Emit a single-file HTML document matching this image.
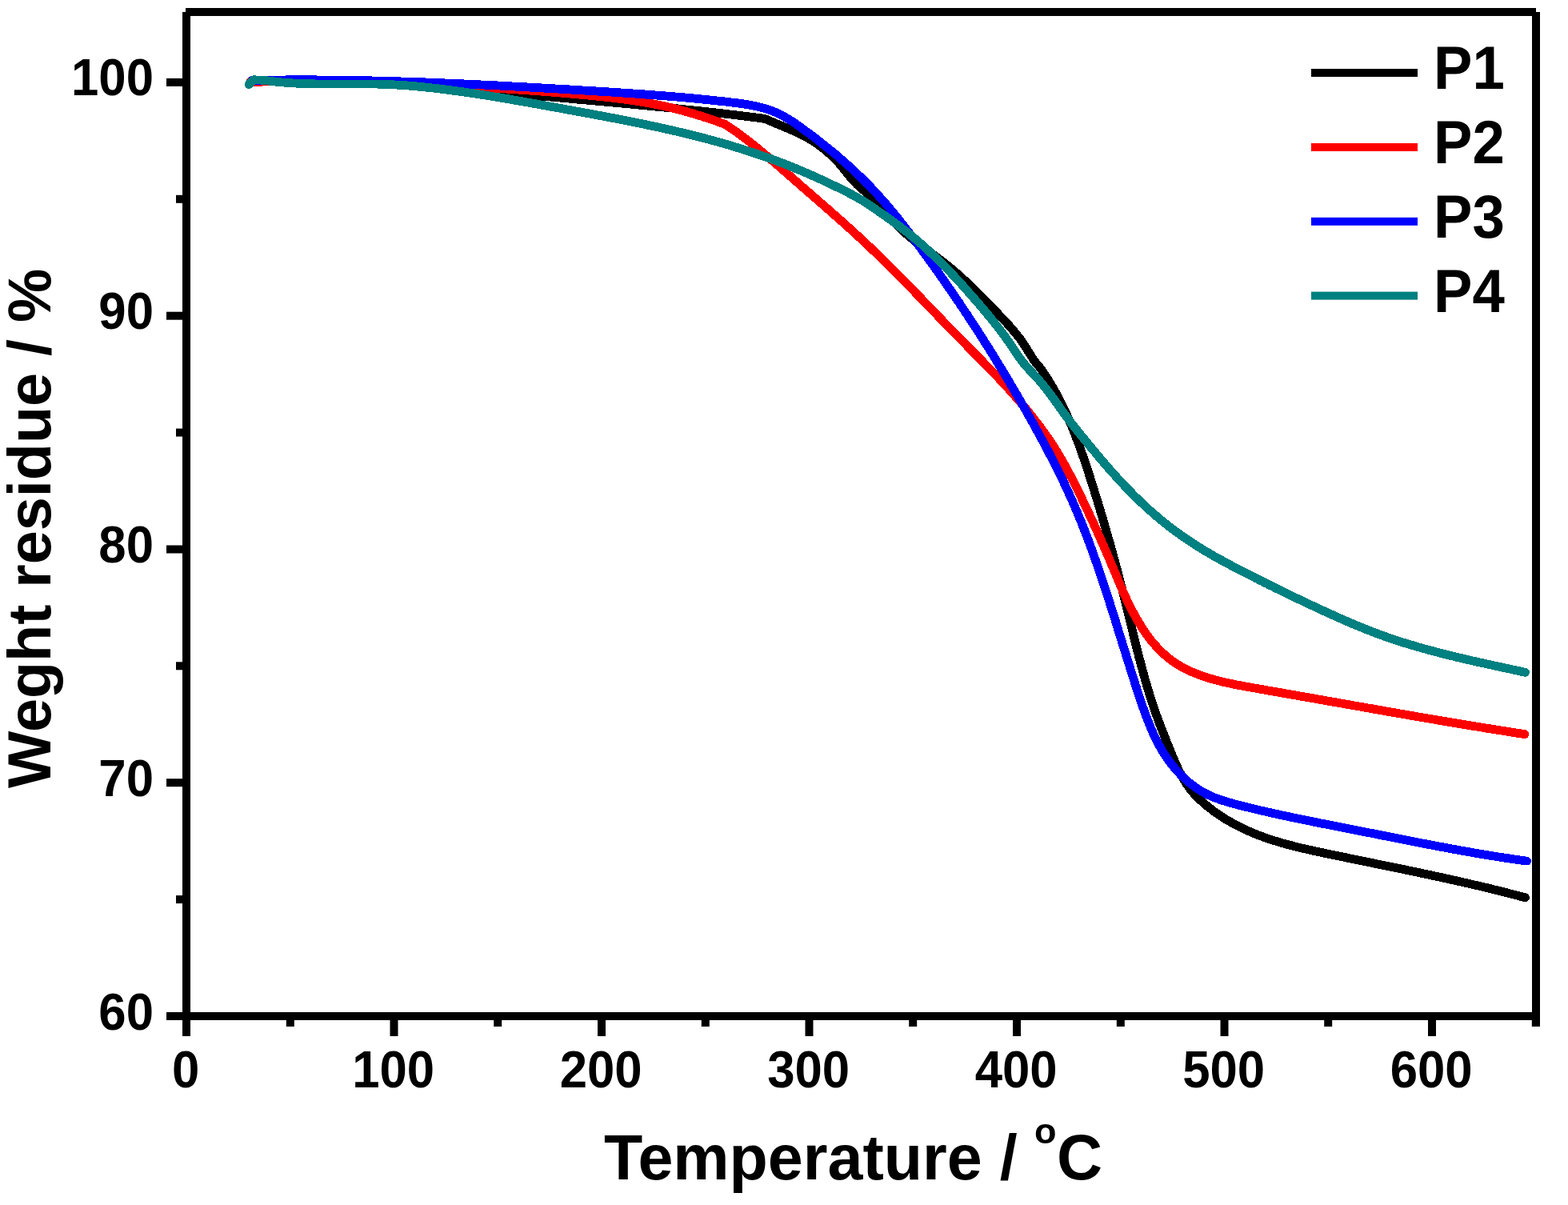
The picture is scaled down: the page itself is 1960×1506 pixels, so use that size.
<!DOCTYPE html><html><head><meta charset="utf-8"><title>TGA</title><style>html,body{margin:0;padding:0;background:#fff;}svg{display:block;}text{font-family:"Liberation Sans",Arial,sans-serif;font-weight:bold;fill:#000;}</style></head><body>
<svg width="1960" height="1506" viewBox="0 0 1960 1506">
<rect width="1960" height="1506" fill="#fff"/>
<path d="M315.0,101.5 318.0,101.5 321.0,101.4 324.1,101.4 327.1,101.4 330.1,101.4 333.1,101.3 336.2,101.3 339.2,101.3 342.2,101.3 345.2,101.3 348.3,101.3 351.3,101.3 354.3,101.3 357.3,101.3 360.3,101.3 363.4,101.4 366.4,101.4 369.4,101.4 372.4,101.4 375.4,101.5 378.5,101.5 381.5,101.5 384.5,101.6 387.5,101.6 390.5,101.7 393.6,101.7 396.6,101.8 399.6,101.9 402.6,101.9 405.6,102.0 408.7,102.1 411.7,102.1 414.7,102.2 417.7,102.3 420.7,102.4 423.8,102.5 426.8,102.6 429.8,102.7 432.8,102.8 435.8,102.9 438.8,103.0 441.9,103.1 444.9,103.2 447.9,103.4 450.9,103.5 453.9,103.6 456.9,103.7 460.0,103.9 463.0,104.0 466.0,104.1 469.0,104.3 472.0,104.4 475.0,104.6 478.0,104.7 481.1,104.9 484.1,105.0 487.1,105.2 490.1,105.4 493.1,105.5 496.1,105.7 499.1,105.9 502.2,106.1 505.2,106.2 508.2,106.4 511.2,106.6 514.2,106.8 517.2,107.0 520.2,107.2 523.2,107.4 526.2,107.6 529.3,107.8 532.3,108.0 535.3,108.2 538.3,108.4 541.3,108.6 544.3,108.8 547.3,109.1 550.3,109.3 553.3,109.5 556.4,109.7 559.4,110.0 562.4,110.2 565.4,110.4 568.4,110.7 571.4,110.9 574.4,111.2 577.4,111.4 580.4,111.6 583.4,111.9 586.4,112.1 589.4,112.4 592.4,112.6 595.5,112.9 598.5,113.1 601.5,113.4 604.5,113.7 607.5,113.9 610.5,114.2 613.5,114.4 616.5,114.7 619.5,115.0 622.5,115.2 625.5,115.5 628.5,115.8 631.5,116.0 634.5,116.3 637.6,116.6 640.6,116.8 643.6,117.1 646.6,117.4 649.6,117.6 652.6,117.9 655.6,118.2 658.6,118.4 661.6,118.7 664.6,119.0 667.6,119.2 670.6,119.5 673.6,119.8 676.6,120.1 679.6,120.3 682.7,120.6 685.7,120.9 688.7,121.1 691.7,121.4 694.7,121.7 697.7,121.9 700.7,122.2 703.7,122.5 706.7,122.8 709.7,123.0 712.7,123.3 715.7,123.6 718.7,123.8 721.7,124.1 724.8,124.4 727.8,124.6 730.8,124.9 733.8,125.2 736.8,125.5 739.8,125.7 742.8,126.0 745.8,126.3 748.8,126.5 751.8,126.8 754.8,127.1 757.8,127.4 760.8,127.6 763.8,127.9 766.9,128.2 769.9,128.5 772.9,128.7 775.9,129.0 778.9,129.3 781.9,129.6 784.9,129.8 787.9,130.1 790.9,130.4 793.9,130.7 796.9,131.0 799.9,131.3 802.9,131.5 805.9,131.8 808.9,132.1 812.0,132.4 815.0,132.7 818.0,133.0 821.0,133.3 824.0,133.5 827.0,133.8 830.0,134.1 833.0,134.4 836.0,134.7 839.0,135.0 842.0,135.3 845.0,135.6 848.0,135.9 851.0,136.2 854.0,136.5 857.0,136.9 860.0,137.2 863.0,137.5 866.0,137.8 869.0,138.1 872.0,138.4 875.1,138.7 878.1,139.1 881.1,139.4 884.1,139.7 887.1,140.1 890.1,140.4 893.1,140.7 896.1,141.1 899.1,141.4 902.1,141.7 905.1,142.1 908.1,142.4 911.1,142.8 914.1,143.1 917.1,143.5 920.1,143.8 923.1,144.2 926.0,144.6 929.0,144.9 932.0,145.3 935.0,145.7 938.0,146.1 941.0,146.4 944.0,146.8 947.0,147.2 950.0,147.6 953.0,148.0 956.0,148.4 958.8,149.6 961.7,150.8 964.6,152.1 967.5,153.3 970.3,154.5 973.2,155.7 976.1,156.9 979.0,158.1 981.9,159.3 984.8,160.5 987.7,161.7 990.6,163.0 993.5,164.3 996.3,165.6 999.1,167.0 1002.0,168.4 1004.7,169.8 1007.5,171.2 1010.2,172.7 1012.9,174.3 1015.6,175.9 1018.2,177.6 1020.8,179.3 1023.3,181.1 1025.8,183.0 1028.3,184.9 1030.7,186.9 1033.0,189.0 1035.4,190.9 1037.7,192.8 1039.9,194.8 1042.0,196.9 1044.1,199.1 1046.2,201.3 1048.2,203.5 1050.2,205.8 1052.1,208.1 1054.1,210.5 1056.0,212.8 1057.9,215.2 1059.8,217.5 1061.7,219.9 1063.6,222.2 1065.5,224.4 1067.5,226.7 1069.5,228.8 1071.5,230.9 1073.6,232.9 1075.8,234.8 1078.0,236.6 1080.3,238.5 1082.5,240.3 1084.7,242.3 1086.8,244.3 1088.9,246.3 1091.0,248.4 1093.0,250.5 1095.1,252.7 1097.1,254.9 1099.1,257.1 1101.1,259.3 1103.1,261.6 1105.1,263.8 1107.1,266.1 1109.1,268.3 1111.1,270.6 1113.1,272.9 1115.2,275.1 1117.2,277.3 1119.3,279.5 1121.4,281.7 1123.5,283.8 1125.7,285.9 1127.9,288.0 1130.1,290.0 1132.4,292.0 1134.7,293.9 1137.0,295.8 1139.3,297.7 1141.7,299.6 1144.0,301.5 1146.4,303.3 1148.8,305.1 1151.2,306.9 1153.6,308.7 1156.1,310.5 1158.5,312.3 1160.9,314.0 1163.4,315.8 1165.8,317.6 1168.2,319.4 1170.6,321.2 1173.0,323.0 1175.4,324.8 1177.8,326.6 1180.2,328.4 1182.6,330.3 1184.9,332.2 1187.2,334.1 1189.5,336.0 1191.8,338.0 1194.1,339.9 1196.4,341.9 1198.6,343.9 1200.9,345.9 1203.1,347.9 1205.3,349.9 1207.5,352.0 1209.7,354.0 1211.9,356.1 1214.1,358.2 1216.2,360.2 1218.4,362.3 1220.5,364.5 1222.7,366.6 1224.8,368.7 1226.9,370.8 1229.1,373.0 1231.2,375.1 1233.3,377.3 1235.4,379.4 1237.5,381.6 1239.6,383.8 1241.7,386.0 1243.7,388.1 1245.8,390.3 1247.9,392.5 1250.0,394.7 1252.0,396.9 1254.1,399.1 1256.2,401.3 1258.2,403.5 1260.2,405.7 1262.3,407.9 1264.2,410.2 1266.2,412.5 1268.1,414.8 1270.1,417.1 1271.9,419.4 1273.8,421.8 1275.6,424.2 1277.3,426.6 1279.0,429.1 1280.7,431.6 1282.3,434.1 1283.9,436.7 1285.4,439.3 1287.0,441.8 1288.6,444.3 1290.2,446.8 1291.8,449.3 1293.5,451.6 1295.3,453.9 1297.1,456.2 1299.0,458.4 1300.8,460.7 1302.5,463.0 1304.2,465.4 1305.9,467.9 1307.5,470.4 1309.1,472.9 1310.7,475.4 1312.3,478.0 1313.8,480.5 1315.3,483.1 1316.8,485.7 1318.3,488.3 1319.8,490.9 1321.2,493.6 1322.6,496.2 1324.0,498.9 1325.4,501.5 1326.7,504.2 1328.0,506.9 1329.3,509.6 1330.6,512.4 1331.9,515.1 1333.2,517.8 1334.4,520.6 1335.6,523.3 1336.8,526.1 1338.0,528.9 1339.2,531.7 1340.3,534.4 1341.5,537.2 1342.6,540.0 1343.7,542.8 1344.8,545.6 1345.9,548.5 1347.0,551.3 1348.0,554.1 1349.1,556.9 1350.1,559.8 1351.1,562.6 1352.1,565.4 1353.1,568.3 1354.1,571.1 1355.1,574.0 1356.1,576.8 1357.0,579.7 1358.0,582.5 1358.9,585.4 1359.9,588.2 1360.8,591.1 1361.7,594.0 1362.6,596.8 1363.5,599.7 1364.5,602.6 1365.4,605.4 1366.3,608.3 1367.2,611.2 1368.0,614.0 1368.9,616.9 1369.8,619.8 1370.7,622.7 1371.6,625.5 1372.5,628.4 1373.3,631.3 1374.2,634.2 1375.1,637.0 1375.9,639.9 1376.8,642.8 1377.7,645.7 1378.5,648.6 1379.4,651.4 1380.2,654.3 1381.0,657.2 1381.9,660.1 1382.7,663.0 1383.6,665.9 1384.4,668.7 1385.2,671.6 1386.0,674.5 1386.9,677.4 1387.7,680.3 1388.5,683.2 1389.3,686.1 1390.1,689.0 1390.9,691.9 1391.7,694.8 1392.5,697.7 1393.3,700.6 1394.1,703.5 1394.9,706.4 1395.6,709.3 1396.4,712.2 1397.2,715.1 1397.9,718.0 1398.7,720.9 1399.5,723.8 1400.2,726.7 1401.0,729.7 1401.7,732.6 1402.5,735.5 1403.2,738.4 1404.0,741.3 1404.7,744.2 1405.4,747.2 1406.2,750.1 1406.9,753.0 1407.6,755.9 1408.3,758.9 1409.1,761.8 1409.8,764.7 1410.5,767.6 1411.2,770.6 1411.9,773.5 1412.6,776.4 1413.3,779.3 1414.1,782.3 1414.8,785.2 1415.5,788.1 1416.2,791.1 1416.9,794.0 1417.6,796.9 1418.4,799.8 1419.1,802.7 1419.8,805.7 1420.6,808.6 1421.3,811.5 1422.0,814.4 1422.8,817.3 1423.5,820.3 1424.3,823.2 1425.1,826.1 1425.8,829.0 1426.6,831.9 1427.4,834.8 1428.2,837.7 1429.0,840.6 1429.8,843.5 1430.6,846.4 1431.4,849.3 1432.2,852.2 1433.1,855.0 1433.9,857.9 1434.8,860.8 1435.7,863.7 1436.5,866.5 1437.4,869.4 1438.3,872.3 1439.2,875.1 1440.2,878.0 1441.1,880.8 1442.1,883.6 1443.0,886.5 1444.0,889.3 1445.0,892.1 1446.0,895.0 1447.0,897.8 1448.0,900.6 1449.1,903.4 1450.1,906.2 1451.2,909.0 1452.3,911.8 1453.4,914.6 1454.5,917.4 1455.6,920.2 1456.7,923.0 1457.8,925.8 1458.9,928.6 1460.1,931.4 1461.2,934.2 1462.4,937.0 1463.5,939.8 1464.7,942.6 1465.8,945.5 1467.0,948.3 1468.2,951.1 1469.4,953.8 1470.7,956.6 1471.9,959.4 1473.2,962.1 1474.6,964.8 1476.0,967.5 1477.4,970.2 1478.8,972.8 1480.4,975.4 1481.9,977.9 1483.6,980.4 1485.3,982.8 1487.0,985.2 1488.8,987.6 1490.7,989.8 1492.7,992.1 1494.7,994.2 1496.8,996.4 1498.9,998.4 1501.1,1000.5 1503.3,1002.5 1505.5,1004.5 1507.8,1006.4 1510.1,1008.3 1512.5,1010.2 1514.8,1012.0 1517.2,1013.8 1519.7,1015.6 1522.1,1017.3 1524.6,1019.0 1527.1,1020.6 1529.7,1022.3 1532.2,1023.9 1534.8,1025.4 1537.4,1026.9 1540.1,1028.4 1542.7,1029.9 1545.4,1031.3 1548.1,1032.7 1550.8,1034.0 1553.5,1035.4 1556.2,1036.6 1559.0,1037.9 1561.8,1039.1 1564.5,1040.3 1567.3,1041.5 1570.1,1042.6 1572.9,1043.7 1575.7,1044.8 1578.6,1045.8 1581.4,1046.9 1584.2,1047.8 1587.1,1048.8 1589.9,1049.7 1592.8,1050.7 1595.7,1051.5 1598.5,1052.4 1601.4,1053.3 1604.3,1054.1 1607.2,1054.9 1610.1,1055.7 1613.0,1056.4 1615.9,1057.2 1618.8,1057.9 1621.7,1058.7 1624.6,1059.4 1627.6,1060.1 1630.5,1060.7 1633.4,1061.4 1636.3,1062.1 1639.3,1062.7 1642.2,1063.4 1645.1,1064.0 1648.1,1064.6 1651.0,1065.3 1654.0,1065.9 1656.9,1066.5 1659.9,1067.1 1662.8,1067.7 1665.7,1068.4 1668.7,1069.0 1671.6,1069.6 1674.6,1070.2 1677.5,1070.8 1680.5,1071.4 1683.4,1072.0 1686.4,1072.6 1689.3,1073.2 1692.3,1073.8 1695.2,1074.4 1698.2,1075.0 1701.1,1075.6 1704.1,1076.2 1707.0,1076.8 1709.9,1077.4 1712.9,1078.0 1715.8,1078.6 1718.8,1079.3 1721.7,1079.9 1724.7,1080.5 1727.6,1081.1 1730.6,1081.7 1733.5,1082.3 1736.5,1082.9 1739.4,1083.5 1742.4,1084.1 1745.3,1084.7 1748.3,1085.3 1751.2,1085.9 1754.1,1086.5 1757.1,1087.1 1760.0,1087.8 1763.0,1088.4 1765.9,1089.0 1768.9,1089.6 1771.8,1090.2 1774.8,1090.8 1777.7,1091.5 1780.6,1092.1 1783.6,1092.7 1786.5,1093.3 1789.5,1094.0 1792.4,1094.6 1795.3,1095.2 1798.3,1095.9 1801.2,1096.5 1804.2,1097.2 1807.1,1097.8 1810.0,1098.4 1813.0,1099.1 1815.9,1099.7 1818.8,1100.4 1821.8,1101.1 1824.7,1101.7 1827.6,1102.4 1830.6,1103.1 1833.5,1103.7 1836.4,1104.4 1839.4,1105.1 1842.3,1105.8 1845.2,1106.4 1848.2,1107.1 1851.1,1107.8 1854.0,1108.5 1856.9,1109.2 1859.9,1109.9 1862.8,1110.6 1865.7,1111.4 1868.6,1112.1 1871.5,1112.8 1874.5,1113.5 1877.4,1114.3 1880.3,1115.0 1883.2,1115.7 1886.1,1116.5 1889.0,1117.2 1892.0,1118.0 1894.9,1118.7 1897.8,1119.5 1900.7,1120.3 1903.6,1121.0 1906.5,1121.8" fill="none" stroke="#000000" stroke-width="10.8" stroke-linejoin="round" stroke-linecap="round" shape-rendering="crispEdges"/>
<path d="M313.0,102.1 316.0,102.1 319.0,102.1 322.1,102.1 325.1,102.1 328.1,102.1 331.1,102.0 334.1,102.0 337.2,102.0 340.2,102.0 343.2,102.0 346.2,102.1 349.2,102.1 352.2,102.1 355.3,102.1 358.3,102.1 361.3,102.1 364.3,102.1 367.3,102.1 370.4,102.2 373.4,102.2 376.4,102.2 379.4,102.2 382.4,102.2 385.5,102.3 388.5,102.3 391.5,102.3 394.5,102.4 397.5,102.4 400.6,102.4 403.6,102.5 406.6,102.5 409.6,102.5 412.6,102.6 415.7,102.6 418.7,102.7 421.7,102.7 424.7,102.8 427.7,102.8 430.8,102.9 433.8,102.9 436.8,103.0 439.8,103.1 442.8,103.1 445.8,103.2 448.9,103.2 451.9,103.3 454.9,103.4 457.9,103.5 460.9,103.5 464.0,103.6 467.0,103.7 470.0,103.8 473.0,103.8 476.0,103.9 479.1,104.0 482.1,104.1 485.1,104.2 488.1,104.3 491.1,104.4 494.2,104.5 497.2,104.5 500.2,104.6 503.2,104.7 506.2,104.9 509.2,105.0 512.3,105.1 515.3,105.2 518.3,105.3 521.3,105.4 524.3,105.5 527.4,105.6 530.4,105.7 533.4,105.9 536.4,106.0 539.4,106.1 542.4,106.2 545.5,106.4 548.5,106.5 551.5,106.6 554.5,106.8 557.5,106.9 560.6,107.0 563.6,107.2 566.6,107.3 569.6,107.5 572.6,107.6 575.6,107.8 578.7,107.9 581.7,108.1 584.7,108.2 587.7,108.4 590.7,108.6 593.7,108.7 596.8,108.9 599.8,109.1 602.8,109.2 605.8,109.4 608.8,109.6 611.8,109.8 614.8,109.9 617.9,110.1 620.9,110.3 623.9,110.5 626.9,110.7 629.9,110.9 632.9,111.1 635.9,111.3 639.0,111.5 642.0,111.7 645.0,111.9 648.0,112.1 651.0,112.3 654.0,112.5 657.0,112.7 660.1,112.9 663.1,113.2 666.1,113.4 669.1,113.6 672.1,113.8 675.1,114.0 678.1,114.3 681.1,114.5 684.2,114.7 687.2,115.0 690.2,115.2 693.2,115.5 696.2,115.7 699.2,116.0 702.2,116.2 705.2,116.5 708.2,116.7 711.3,117.0 714.3,117.2 717.3,117.5 720.3,117.8 723.3,118.0 726.3,118.3 729.3,118.6 732.3,118.8 735.3,119.1 738.3,119.4 741.3,119.7 744.3,120.0 747.3,120.3 750.4,120.6 753.4,120.9 756.4,121.3 759.4,121.6 762.4,121.9 765.3,122.3 768.3,122.6 771.3,123.0 774.3,123.4 777.3,123.7 780.3,124.1 783.3,124.5 786.3,125.0 789.3,125.4 792.2,125.8 795.2,126.3 798.2,126.7 801.2,127.2 804.1,127.7 807.1,128.2 810.1,128.7 813.0,129.3 816.0,129.8 818.9,130.4 821.9,131.0 824.8,131.6 827.8,132.2 830.7,132.8 833.7,133.5 836.6,134.1 839.5,134.8 842.5,135.5 845.4,136.3 848.3,137.0 851.2,137.8 854.1,138.5 857.0,139.4 859.9,140.2 862.8,141.0 865.7,141.9 868.6,142.7 871.5,143.6 874.4,144.5 877.3,145.4 880.2,146.4 883.0,147.3 885.9,148.2 888.8,149.2 891.7,150.2 894.5,151.1 897.4,152.1 900.3,153.1 903.1,154.1 906.0,155.1 908.5,156.7 911.0,158.4 913.5,160.1 916.0,161.8 918.4,163.5 920.9,165.2 923.3,167.0 925.7,168.8 928.1,170.6 930.5,172.4 932.9,174.2 935.3,176.0 937.7,177.9 940.0,179.7 942.4,181.6 944.7,183.5 947.1,185.4 949.4,187.3 951.7,189.2 954.0,191.1 956.3,193.0 958.6,195.0 960.9,196.9 963.2,198.9 965.5,200.8 967.8,202.8 970.1,204.7 972.3,206.7 974.6,208.7 976.9,210.6 979.1,212.6 981.4,214.6 983.7,216.6 985.9,218.6 988.2,220.6 990.4,222.6 992.7,224.5 995.0,226.5 997.2,228.5 999.5,230.5 1001.7,232.5 1004.0,234.5 1006.3,236.4 1008.5,238.4 1010.8,240.4 1013.1,242.4 1015.3,244.4 1017.6,246.3 1019.9,248.3 1022.2,250.3 1024.4,252.3 1026.7,254.2 1029.0,256.2 1031.2,258.2 1033.5,260.2 1035.8,262.1 1038.0,264.1 1040.3,266.1 1042.5,268.1 1044.8,270.1 1047.1,272.1 1049.3,274.1 1051.6,276.1 1053.8,278.1 1056.0,280.1 1058.3,282.1 1060.5,284.1 1062.8,286.1 1065.0,288.1 1067.2,290.1 1069.4,292.2 1071.6,294.2 1073.8,296.2 1076.1,298.3 1078.3,300.3 1080.4,302.4 1082.6,304.4 1084.8,306.5 1087.0,308.6 1089.2,310.7 1091.3,312.7 1093.5,314.8 1095.7,316.9 1097.8,319.0 1100.0,321.1 1102.1,323.2 1104.3,325.3 1106.4,327.4 1108.5,329.5 1110.7,331.6 1112.8,333.8 1114.9,335.9 1117.1,338.0 1119.2,340.2 1121.3,342.3 1123.4,344.4 1125.5,346.6 1127.6,348.7 1129.8,350.8 1131.9,353.0 1134.0,355.1 1136.1,357.3 1138.2,359.4 1140.3,361.6 1142.4,363.7 1144.5,365.9 1146.6,368.1 1148.7,370.2 1150.8,372.4 1152.8,374.5 1154.9,376.7 1157.0,378.9 1159.1,381.0 1161.2,383.2 1163.3,385.4 1165.4,387.5 1167.5,389.7 1169.6,391.9 1171.7,394.0 1173.7,396.2 1175.8,398.3 1177.9,400.5 1180.0,402.7 1182.1,404.8 1184.2,407.0 1186.3,409.1 1188.4,411.3 1190.5,413.5 1192.6,415.6 1194.7,417.8 1196.8,419.9 1198.9,422.1 1201.0,424.2 1203.1,426.3 1205.2,428.5 1207.3,430.6 1209.4,432.8 1211.5,434.9 1213.6,437.0 1215.8,439.2 1217.9,441.3 1220.0,443.5 1222.1,445.6 1224.2,447.7 1226.3,449.9 1228.4,452.0 1230.5,454.2 1232.6,456.3 1234.7,458.5 1236.8,460.6 1238.9,462.8 1241.0,465.0 1243.0,467.1 1245.1,469.3 1247.2,471.5 1249.3,473.7 1251.3,475.9 1253.4,478.1 1255.4,480.3 1257.5,482.5 1259.5,484.7 1261.5,486.9 1263.5,489.2 1265.5,491.4 1267.5,493.7 1269.5,495.9 1271.5,498.2 1273.5,500.4 1275.4,502.7 1277.4,505.0 1279.3,507.3 1281.3,509.6 1283.2,511.9 1285.1,514.3 1287.0,516.6 1288.9,519.0 1290.7,521.3 1292.6,523.7 1294.4,526.0 1296.3,528.4 1298.1,530.8 1299.9,533.2 1301.7,535.6 1303.4,538.1 1305.2,540.5 1306.9,543.0 1308.6,545.4 1310.3,547.9 1312.0,550.4 1313.7,552.9 1315.3,555.4 1317.0,557.9 1318.6,560.4 1320.2,563.0 1321.7,565.5 1323.3,568.1 1324.8,570.7 1326.3,573.2 1327.8,575.8 1329.3,578.5 1330.8,581.1 1332.2,583.7 1333.7,586.3 1335.1,589.0 1336.5,591.6 1337.9,594.3 1339.3,596.9 1340.7,599.6 1342.1,602.3 1343.4,605.0 1344.8,607.7 1346.1,610.4 1347.5,613.1 1348.8,615.8 1350.1,618.5 1351.4,621.2 1352.7,623.9 1354.0,626.6 1355.3,629.3 1356.6,632.0 1357.8,634.8 1359.1,637.5 1360.4,640.2 1361.7,642.9 1362.9,645.6 1364.2,648.4 1365.5,651.1 1366.7,653.8 1368.0,656.5 1369.2,659.3 1370.4,662.0 1371.7,664.7 1372.9,667.5 1374.1,670.2 1375.4,673.0 1376.6,675.7 1377.8,678.4 1379.0,681.2 1380.2,683.9 1381.4,686.7 1382.6,689.4 1383.8,692.2 1385.0,695.0 1386.2,697.7 1387.4,700.5 1388.5,703.3 1389.7,706.0 1390.9,708.8 1392.0,711.6 1393.2,714.4 1394.4,717.1 1395.5,719.9 1396.7,722.7 1397.9,725.5 1399.0,728.2 1400.2,731.0 1401.4,733.8 1402.6,736.5 1403.8,739.3 1405.1,742.1 1406.3,744.8 1407.6,747.6 1408.8,750.3 1410.1,753.0 1411.5,755.7 1412.8,758.4 1414.2,761.1 1415.6,763.8 1417.0,766.5 1418.4,769.2 1419.9,771.8 1421.4,774.4 1422.9,777.1 1424.5,779.6 1426.1,782.2 1427.7,784.8 1429.4,787.3 1431.1,789.8 1432.8,792.3 1434.6,794.7 1436.4,797.1 1438.2,799.5 1440.1,801.9 1442.0,804.2 1444.0,806.4 1446.0,808.6 1448.0,810.8 1450.1,812.9 1452.2,815.0 1454.4,817.0 1456.6,819.0 1458.9,820.9 1461.2,822.8 1463.5,824.6 1465.9,826.3 1468.3,828.0 1470.8,829.6 1473.3,831.2 1475.9,832.7 1478.4,834.1 1481.0,835.5 1483.7,836.9 1486.4,838.2 1489.1,839.4 1491.8,840.6 1494.6,841.7 1497.4,842.8 1500.2,843.9 1503.0,844.9 1505.9,845.9 1508.7,846.8 1511.6,847.7 1514.5,848.5 1517.5,849.4 1520.4,850.1 1523.4,850.9 1526.3,851.6 1529.3,852.4 1532.3,853.0 1535.3,853.7 1538.3,854.3 1541.3,855.0 1544.3,855.6 1547.3,856.2 1550.3,856.7 1553.4,857.3 1556.4,857.8 1559.4,858.4 1562.4,858.9 1565.4,859.5 1568.4,860.0 1571.4,860.5 1574.4,861.1 1577.4,861.6 1580.3,862.1 1583.3,862.6 1586.3,863.2 1589.2,863.7 1592.2,864.2 1595.1,864.7 1598.1,865.2 1601.0,865.7 1604.0,866.3 1606.9,866.8 1609.8,867.3 1612.8,867.8 1615.7,868.3 1618.6,868.8 1621.6,869.3 1624.5,869.9 1627.4,870.4 1630.4,870.9 1633.3,871.4 1636.3,871.9 1639.2,872.4 1642.1,872.9 1645.1,873.5 1648.0,874.0 1651.0,874.5 1653.9,875.0 1656.8,875.5 1659.8,876.1 1662.7,876.6 1665.7,877.1 1668.6,877.6 1671.6,878.1 1674.5,878.7 1677.5,879.2 1680.5,879.7 1683.4,880.2 1686.4,880.7 1689.3,881.3 1692.3,881.8 1695.2,882.3 1698.2,882.8 1701.1,883.3 1704.1,883.9 1707.1,884.4 1710.0,884.9 1713.0,885.4 1716.0,885.9 1718.9,886.5 1721.9,887.0 1724.8,887.5 1727.8,888.0 1730.8,888.5 1733.7,889.1 1736.7,889.6 1739.7,890.1 1742.6,890.6 1745.6,891.1 1748.6,891.7 1751.6,892.2 1754.5,892.7 1757.5,893.2 1760.5,893.7 1763.4,894.2 1766.4,894.7 1769.4,895.3 1772.3,895.8 1775.3,896.3 1778.3,896.8 1781.3,897.3 1784.2,897.8 1787.2,898.3 1790.2,898.8 1793.1,899.3 1796.1,899.8 1799.1,900.3 1802.1,900.8 1805.0,901.3 1808.0,901.8 1811.0,902.3 1814.0,902.8 1816.9,903.3 1819.9,903.8 1822.9,904.3 1825.8,904.8 1828.8,905.3 1831.8,905.8 1834.8,906.3 1837.7,906.8 1840.7,907.3 1843.7,907.8 1846.7,908.2 1849.6,908.7 1852.6,909.2 1855.6,909.7 1858.5,910.2 1861.5,910.6 1864.5,911.1 1867.4,911.6 1870.4,912.1 1873.4,912.5 1876.3,913.0 1879.3,913.5 1882.3,913.9 1885.2,914.4 1888.2,914.9 1891.2,915.3 1894.1,915.8 1897.1,916.3 1900.1,916.7 1903.0,917.2 1906.0,917.6" fill="none" stroke="#ff0000" stroke-width="10.8" stroke-linejoin="round" stroke-linecap="round" shape-rendering="crispEdges"/>
<path d="M315.0,100.4 318.0,100.3 321.0,100.3 324.0,100.2 327.0,100.2 330.0,100.1 333.0,100.1 336.0,100.1 339.0,100.0 342.0,100.0 345.0,100.0 348.1,99.9 351.1,99.9 354.1,99.9 357.1,99.9 360.1,99.8 363.1,99.8 366.1,99.8 369.1,99.8 372.1,99.8 375.1,99.8 378.1,99.8 381.1,99.8 384.1,99.8 387.1,99.8 390.1,99.8 393.1,99.8 396.1,99.9 399.1,99.9 402.2,99.9 405.2,99.9 408.2,99.9 411.2,100.0 414.2,100.0 417.2,100.0 420.2,100.1 423.2,100.1 426.2,100.2 429.2,100.2 432.2,100.2 435.2,100.3 438.2,100.3 441.2,100.4 444.2,100.4 447.2,100.5 450.2,100.6 453.3,100.6 456.3,100.7 459.3,100.7 462.3,100.8 465.3,100.9 468.3,101.0 471.3,101.0 474.3,101.1 477.3,101.2 480.3,101.3 483.3,101.3 486.3,101.4 489.3,101.5 492.3,101.6 495.3,101.7 498.3,101.8 501.3,101.9 504.3,102.0 507.4,102.1 510.4,102.2 513.4,102.3 516.4,102.4 519.4,102.5 522.4,102.6 525.4,102.7 528.4,102.8 531.4,102.9 534.4,103.0 537.4,103.1 540.4,103.3 543.4,103.4 546.4,103.5 549.4,103.6 552.4,103.7 555.4,103.9 558.4,104.0 561.4,104.1 564.4,104.2 567.4,104.4 570.5,104.5 573.5,104.6 576.5,104.8 579.5,104.9 582.5,105.0 585.5,105.2 588.5,105.3 591.5,105.5 594.5,105.6 597.5,105.7 600.5,105.9 603.5,106.0 606.5,106.2 609.5,106.3 612.5,106.5 615.5,106.6 618.5,106.8 621.5,106.9 624.5,107.1 627.5,107.2 630.5,107.4 633.5,107.6 636.5,107.7 639.5,107.9 642.5,108.0 645.5,108.2 648.5,108.4 651.5,108.5 654.5,108.7 657.5,108.8 660.5,109.0 663.5,109.2 666.5,109.3 669.5,109.5 672.5,109.7 675.5,109.8 678.5,110.0 681.5,110.2 684.5,110.4 687.5,110.5 690.5,110.7 693.5,110.9 696.5,111.0 699.5,111.2 702.5,111.4 705.5,111.6 708.5,111.7 711.5,111.9 714.5,112.1 717.5,112.3 720.5,112.4 723.5,112.6 726.5,112.8 729.5,113.0 732.5,113.2 735.5,113.3 738.5,113.5 741.5,113.7 744.5,113.9 747.5,114.1 750.5,114.3 753.5,114.4 756.5,114.6 759.5,114.8 762.5,115.0 765.5,115.2 768.4,115.4 771.4,115.6 774.4,115.8 777.4,116.0 780.4,116.2 783.4,116.4 786.4,116.6 789.4,116.8 792.4,117.0 795.4,117.2 798.4,117.4 801.4,117.6 804.4,117.8 807.4,118.1 810.4,118.3 813.4,118.5 816.4,118.7 819.4,119.0 822.4,119.2 825.4,119.4 828.4,119.7 831.4,119.9 834.4,120.1 837.4,120.4 840.4,120.6 843.4,120.9 846.4,121.1 849.4,121.4 852.4,121.7 855.4,121.9 858.4,122.2 861.4,122.5 864.4,122.7 867.4,123.0 870.4,123.3 873.4,123.6 876.4,123.9 879.4,124.2 882.4,124.5 885.4,124.8 888.4,125.1 891.4,125.4 894.4,125.7 897.4,126.1 900.4,126.4 903.4,126.7 906.4,127.0 909.5,127.4 912.5,127.7 915.5,128.1 918.5,128.5 921.5,128.8 924.5,129.2 927.5,129.6 930.4,130.1 933.4,130.6 936.4,131.1 939.3,131.6 942.3,132.2 945.2,132.8 948.1,133.5 951.0,134.2 953.8,134.9 956.7,135.8 959.5,136.6 962.3,137.6 965.1,138.6 967.8,139.7 970.5,140.8 973.2,142.0 975.8,143.3 978.5,144.7 981.1,146.2 983.6,147.7 986.2,149.2 988.7,150.8 991.2,152.4 993.7,154.1 996.2,155.8 998.6,157.6 1001.1,159.3 1003.5,161.1 1006.0,162.9 1008.4,164.7 1010.8,166.4 1013.3,168.3 1015.7,170.1 1018.1,171.9 1020.5,173.7 1022.9,175.6 1025.2,177.4 1027.6,179.3 1030.0,181.2 1032.3,183.1 1034.7,185.0 1037.0,186.9 1039.3,188.8 1041.7,190.7 1044.0,192.6 1046.3,194.6 1048.6,196.5 1050.8,198.5 1053.1,200.5 1055.4,202.5 1057.6,204.5 1059.9,206.5 1062.1,208.5 1064.3,210.5 1066.5,212.6 1068.7,214.6 1070.9,216.7 1073.1,218.8 1075.2,220.8 1077.4,222.9 1079.5,225.1 1081.7,227.2 1083.8,229.3 1085.9,231.5 1088.0,233.6 1090.1,235.8 1092.1,238.0 1094.2,240.2 1096.2,242.4 1098.2,244.6 1100.2,246.8 1102.2,249.0 1104.2,251.3 1106.2,253.6 1108.2,255.8 1110.1,258.1 1112.0,260.4 1114.0,262.7 1115.9,265.0 1117.8,267.4 1119.7,269.7 1121.6,272.0 1123.5,274.4 1125.3,276.7 1127.2,279.1 1129.0,281.5 1130.9,283.8 1132.7,286.2 1134.5,288.6 1136.4,291.0 1138.2,293.4 1140.0,295.8 1141.8,298.2 1143.6,300.6 1145.4,303.0 1147.2,305.4 1149.0,307.8 1150.8,310.2 1152.6,312.7 1154.4,315.1 1156.1,317.5 1157.9,319.9 1159.7,322.3 1161.5,324.8 1163.2,327.2 1165.0,329.6 1166.7,332.1 1168.5,334.5 1170.2,337.0 1172.0,339.4 1173.7,341.9 1175.4,344.3 1177.2,346.8 1178.9,349.2 1180.6,351.7 1182.3,354.1 1184.0,356.6 1185.7,359.1 1187.4,361.5 1189.1,364.0 1190.8,366.5 1192.5,369.0 1194.2,371.4 1195.9,373.9 1197.6,376.4 1199.3,378.9 1200.9,381.4 1202.6,383.9 1204.3,386.4 1205.9,388.9 1207.6,391.4 1209.3,393.9 1210.9,396.4 1212.6,398.9 1214.2,401.4 1215.8,403.9 1217.5,406.4 1219.1,408.9 1220.7,411.4 1222.4,413.9 1224.0,416.5 1225.6,419.0 1227.2,421.5 1228.8,424.1 1230.4,426.6 1232.0,429.1 1233.6,431.7 1235.2,434.2 1236.8,436.7 1238.4,439.3 1240.0,441.8 1241.6,444.4 1243.1,446.9 1244.7,449.5 1246.3,452.0 1247.8,454.6 1249.4,457.2 1251.0,459.7 1252.5,462.3 1254.1,464.8 1255.6,467.4 1257.2,470.0 1258.7,472.6 1260.2,475.1 1261.8,477.7 1263.3,480.3 1264.8,482.9 1266.4,485.5 1267.9,488.0 1269.4,490.6 1270.9,493.2 1272.4,495.8 1273.9,498.4 1275.4,501.0 1276.9,503.6 1278.4,506.2 1279.9,508.8 1281.4,511.4 1282.9,514.0 1284.3,516.7 1285.8,519.3 1287.3,521.9 1288.8,524.5 1290.2,527.1 1291.7,529.7 1293.1,532.4 1294.6,535.0 1296.0,537.6 1297.5,540.3 1298.9,542.9 1300.4,545.5 1301.8,548.2 1303.2,550.8 1304.6,553.5 1306.0,556.1 1307.5,558.8 1308.9,561.4 1310.3,564.1 1311.6,566.7 1313.0,569.4 1314.4,572.1 1315.8,574.7 1317.1,577.4 1318.5,580.1 1319.8,582.8 1321.2,585.4 1322.5,588.1 1323.8,590.8 1325.2,593.5 1326.5,596.2 1327.8,598.9 1329.1,601.6 1330.4,604.3 1331.6,607.0 1332.9,609.7 1334.2,612.5 1335.4,615.2 1336.7,617.9 1337.9,620.6 1339.1,623.4 1340.4,626.1 1341.6,628.8 1342.8,631.6 1343.9,634.3 1345.1,637.1 1346.3,639.8 1347.4,642.6 1348.6,645.4 1349.7,648.1 1350.9,650.9 1352.0,653.7 1353.1,656.5 1354.2,659.2 1355.3,662.0 1356.4,664.8 1357.5,667.6 1358.5,670.4 1359.6,673.2 1360.7,676.0 1361.7,678.8 1362.7,681.6 1363.8,684.4 1364.8,687.2 1365.8,690.1 1366.8,692.9 1367.8,695.7 1368.8,698.5 1369.8,701.4 1370.8,704.2 1371.8,707.0 1372.8,709.9 1373.8,712.7 1374.7,715.5 1375.7,718.4 1376.6,721.2 1377.6,724.1 1378.6,726.9 1379.5,729.8 1380.4,732.6 1381.4,735.5 1382.3,738.3 1383.2,741.2 1384.2,744.1 1385.1,746.9 1386.0,749.8 1386.9,752.6 1387.8,755.5 1388.7,758.4 1389.6,761.2 1390.6,764.1 1391.5,767.0 1392.4,769.9 1393.3,772.7 1394.2,775.6 1395.1,778.5 1395.9,781.4 1396.8,784.2 1397.7,787.1 1398.6,790.0 1399.5,792.9 1400.4,795.8 1401.3,798.6 1402.2,801.5 1403.1,804.4 1404.0,807.3 1404.9,810.2 1405.8,813.1 1406.7,815.9 1407.6,818.8 1408.5,821.7 1409.4,824.6 1410.3,827.5 1411.2,830.4 1412.1,833.2 1413.0,836.1 1413.9,839.0 1414.8,841.9 1415.7,844.8 1416.7,847.7 1417.6,850.5 1418.5,853.4 1419.4,856.3 1420.4,859.2 1421.3,862.1 1422.2,864.9 1423.2,867.8 1424.1,870.7 1425.1,873.6 1426.0,876.4 1427.0,879.3 1428.0,882.1 1429.0,885.0 1430.0,887.8 1431.0,890.7 1432.1,893.5 1433.1,896.3 1434.2,899.1 1435.3,901.9 1436.4,904.7 1437.6,907.5 1438.7,910.2 1439.9,913.0 1441.1,915.7 1442.4,918.4 1443.6,921.1 1445.0,923.8 1446.3,926.4 1447.7,929.1 1449.1,931.7 1450.5,934.3 1452.0,936.8 1453.5,939.4 1455.1,941.9 1456.7,944.4 1458.3,946.8 1460.0,949.3 1461.8,951.7 1463.5,954.1 1465.4,956.4 1467.3,958.7 1469.2,961.0 1471.2,963.3 1473.2,965.5 1475.2,967.6 1477.4,969.8 1479.5,971.8 1481.7,973.9 1484.0,975.9 1486.2,977.8 1488.6,979.7 1490.9,981.5 1493.3,983.3 1495.8,985.0 1498.3,986.6 1500.8,988.2 1503.4,989.7 1506.0,991.2 1508.6,992.6 1511.3,993.9 1514.1,995.1 1516.8,996.3 1519.6,997.4 1522.4,998.4 1525.2,999.4 1528.1,1000.4 1531.0,1001.3 1533.9,1002.2 1536.8,1003.0 1539.7,1003.9 1542.6,1004.6 1545.5,1005.4 1548.5,1006.2 1551.4,1006.9 1554.4,1007.7 1557.3,1008.4 1560.2,1009.1 1563.2,1009.8 1566.1,1010.6 1569.1,1011.3 1572.0,1012.0 1574.9,1012.7 1577.9,1013.3 1580.8,1014.0 1583.8,1014.7 1586.7,1015.4 1589.6,1016.0 1592.6,1016.7 1595.5,1017.3 1598.5,1018.0 1601.4,1018.6 1604.3,1019.3 1607.3,1019.9 1610.2,1020.5 1613.1,1021.2 1616.1,1021.8 1619.0,1022.4 1622.0,1023.0 1624.9,1023.6 1627.8,1024.2 1630.8,1024.8 1633.7,1025.4 1636.7,1026.0 1639.6,1026.6 1642.5,1027.2 1645.5,1027.8 1648.4,1028.4 1651.4,1029.0 1654.3,1029.6 1657.2,1030.1 1660.2,1030.7 1663.1,1031.3 1666.1,1031.9 1669.0,1032.5 1671.9,1033.0 1674.9,1033.6 1677.8,1034.2 1680.8,1034.8 1683.7,1035.3 1686.7,1035.9 1689.6,1036.5 1692.6,1037.1 1695.5,1037.7 1698.4,1038.2 1701.4,1038.8 1704.3,1039.4 1707.3,1040.0 1710.2,1040.6 1713.2,1041.1 1716.1,1041.7 1719.1,1042.3 1722.0,1042.9 1725.0,1043.5 1727.9,1044.1 1730.9,1044.7 1733.8,1045.2 1736.8,1045.8 1739.7,1046.4 1742.7,1047.0 1745.6,1047.6 1748.6,1048.2 1751.5,1048.7 1754.5,1049.3 1757.4,1049.9 1760.4,1050.5 1763.3,1051.1 1766.3,1051.7 1769.2,1052.2 1772.2,1052.8 1775.1,1053.4 1778.1,1054.0 1781.0,1054.5 1784.0,1055.1 1786.9,1055.7 1789.9,1056.2 1792.9,1056.8 1795.8,1057.4 1798.8,1057.9 1801.7,1058.5 1804.7,1059.0 1807.6,1059.6 1810.6,1060.1 1813.6,1060.7 1816.5,1061.2 1819.5,1061.8 1822.4,1062.3 1825.4,1062.8 1828.4,1063.4 1831.3,1063.9 1834.3,1064.4 1837.3,1064.9 1840.2,1065.5 1843.2,1066.0 1846.1,1066.5 1849.1,1067.0 1852.1,1067.5 1855.0,1068.0 1858.0,1068.5 1861.0,1069.0 1863.9,1069.5 1866.9,1069.9 1869.9,1070.4 1872.8,1070.9 1875.8,1071.3 1878.8,1071.8 1881.8,1072.3 1884.7,1072.7 1887.7,1073.1 1890.7,1073.6 1893.6,1074.0 1896.6,1074.4 1899.6,1074.9 1902.6,1075.3 1905.5,1075.7 1908.5,1076.1" fill="none" stroke="#0000ff" stroke-width="10.8" stroke-linejoin="round" stroke-linecap="round" shape-rendering="crispEdges"/>
<path d="M311.0,105.5 317.0,99.8 331.0,100.3 334.0,100.8 336.9,101.2 339.9,101.6 342.9,101.9 345.9,102.3 348.9,102.6 351.8,102.9 354.8,103.1 357.8,103.4 360.8,103.6 363.8,103.8 366.8,104.0 369.8,104.1 372.8,104.3 375.8,104.4 378.8,104.5 381.8,104.6 384.8,104.7 387.8,104.8 390.8,104.8 393.8,104.9 396.8,104.9 399.8,105.0 402.8,105.0 405.8,105.0 408.8,105.0 411.8,105.0 414.9,105.0 417.9,105.0 420.9,105.0 423.9,105.0 426.9,105.0 429.9,104.9 432.9,104.9 436.0,104.9 439.0,104.9 442.0,104.9 445.0,104.9 448.0,104.9 451.0,104.9 454.0,104.9 457.1,104.9 460.1,104.9 463.1,104.9 466.1,105.0 469.1,105.0 472.1,105.1 475.1,105.2 478.1,105.3 481.1,105.4 484.2,105.5 487.2,105.6 490.2,105.8 493.2,105.9 496.2,106.1 499.2,106.3 502.2,106.5 505.2,106.7 508.2,106.9 511.2,107.1 514.2,107.4 517.2,107.6 520.2,107.9 523.2,108.2 526.2,108.5 529.2,108.8 532.2,109.1 535.1,109.4 538.1,109.7 541.1,110.0 544.1,110.4 547.1,110.7 550.1,111.1 553.1,111.4 556.1,111.8 559.0,112.2 562.0,112.6 565.0,113.0 568.0,113.4 571.0,113.8 573.9,114.2 576.9,114.6 579.9,115.0 582.9,115.4 585.9,115.9 588.8,116.3 591.8,116.7 594.8,117.2 597.7,117.7 600.7,118.1 603.7,118.6 606.7,119.0 609.6,119.5 612.6,120.0 615.6,120.5 618.5,121.0 621.5,121.4 624.5,121.9 627.4,122.4 630.4,122.9 633.4,123.4 636.3,123.9 639.3,124.5 642.3,125.0 645.2,125.5 648.2,126.0 651.2,126.5 654.1,127.0 657.1,127.6 660.0,128.1 663.0,128.6 666.0,129.2 668.9,129.7 671.9,130.2 674.9,130.7 677.8,131.3 680.8,131.8 683.7,132.4 686.7,132.9 689.7,133.4 692.6,134.0 695.6,134.5 698.6,135.0 701.5,135.6 704.5,136.1 707.4,136.7 710.4,137.2 713.4,137.7 716.3,138.3 719.3,138.8 722.3,139.4 725.2,139.9 728.2,140.4 731.1,141.0 734.1,141.5 737.1,142.1 740.0,142.6 743.0,143.2 745.9,143.7 748.9,144.3 751.9,144.8 754.8,145.4 757.8,145.9 760.7,146.5 763.7,147.1 766.7,147.6 769.6,148.2 772.6,148.8 775.5,149.3 778.5,149.9 781.4,150.5 784.4,151.1 787.3,151.7 790.3,152.3 793.2,152.9 796.2,153.5 799.1,154.1 802.1,154.7 805.0,155.3 808.0,155.9 810.9,156.5 813.9,157.1 816.8,157.8 819.7,158.4 822.7,159.0 825.6,159.7 828.5,160.3 831.5,161.0 834.4,161.6 837.3,162.3 840.3,163.0 843.2,163.6 846.1,164.3 849.1,165.0 852.0,165.7 854.9,166.4 857.8,167.1 860.7,167.8 863.7,168.5 866.6,169.3 869.5,170.0 872.4,170.7 875.3,171.5 878.2,172.2 881.1,173.0 884.0,173.8 886.9,174.5 889.8,175.3 892.7,176.1 895.6,176.9 898.5,177.7 901.4,178.5 904.3,179.4 907.2,180.2 910.1,181.0 913.0,181.9 915.8,182.7 918.7,183.6 921.6,184.5 924.5,185.4 927.3,186.3 930.2,187.2 933.1,188.1 935.9,189.0 938.8,190.0 941.7,190.9 944.5,191.8 947.4,192.8 950.2,193.8 953.1,194.8 955.9,195.8 958.7,196.8 961.6,197.8 964.4,198.8 967.3,199.9 970.1,200.9 972.9,202.0 975.7,203.1 978.6,204.1 981.4,205.2 984.2,206.3 987.0,207.5 989.8,208.6 992.6,209.7 995.4,210.9 998.2,212.0 1001.0,213.2 1003.8,214.4 1006.5,215.6 1009.3,216.8 1012.1,218.0 1014.8,219.2 1017.6,220.4 1020.3,221.6 1023.1,222.9 1025.8,224.1 1028.5,225.4 1031.2,226.6 1034.0,227.9 1036.7,229.2 1039.4,230.5 1042.0,231.8 1044.7,233.1 1047.4,234.4 1050.1,235.7 1052.7,237.0 1055.4,238.3 1058.0,239.7 1060.6,241.0 1063.3,242.4 1065.9,243.7 1068.5,245.1 1071.0,246.6 1073.6,248.1 1076.1,249.6 1078.7,251.1 1081.2,252.7 1083.7,254.4 1086.2,256.0 1088.7,257.7 1091.2,259.4 1093.7,261.1 1096.2,262.8 1098.7,264.5 1101.1,266.2 1103.6,268.0 1106.1,269.7 1108.5,271.4 1111.0,273.1 1113.4,274.9 1115.8,276.6 1118.2,278.4 1120.7,280.2 1123.1,281.9 1125.4,283.7 1127.8,285.5 1130.2,287.3 1132.5,289.2 1134.9,291.0 1137.2,292.9 1139.5,294.8 1141.8,296.7 1144.1,298.6 1146.4,300.5 1148.7,302.5 1150.9,304.4 1153.2,306.4 1155.4,308.4 1157.6,310.4 1159.9,312.5 1162.1,314.5 1164.2,316.6 1166.4,318.6 1168.6,320.7 1170.7,322.8 1172.9,324.9 1175.0,327.0 1177.2,329.1 1179.3,331.3 1181.4,333.4 1183.5,335.6 1185.6,337.8 1187.6,339.9 1189.7,342.1 1191.8,344.3 1193.8,346.5 1195.9,348.7 1197.9,350.9 1200.0,353.2 1202.0,355.4 1204.0,357.6 1206.0,359.9 1208.0,362.1 1210.0,364.4 1212.0,366.7 1214.0,368.9 1216.0,371.2 1218.0,373.5 1219.9,375.8 1221.9,378.0 1223.9,380.3 1225.8,382.6 1227.8,384.9 1229.7,387.2 1231.7,389.5 1233.6,391.8 1235.5,394.1 1237.4,396.4 1239.3,398.7 1241.2,401.1 1243.1,403.4 1244.9,405.8 1246.8,408.1 1248.6,410.5 1250.5,412.9 1252.3,415.3 1254.1,417.7 1255.8,420.1 1257.6,422.6 1259.3,425.0 1261.1,427.5 1262.8,430.0 1264.4,432.5 1266.1,435.0 1267.8,437.5 1269.5,440.0 1271.1,442.5 1272.9,445.0 1274.6,447.4 1276.4,449.9 1278.2,452.3 1280.1,454.6 1282.0,456.9 1284.0,459.1 1286.0,461.4 1288.1,463.6 1290.1,465.7 1292.2,467.9 1294.2,470.1 1296.3,472.4 1298.3,474.6 1300.2,476.9 1302.2,479.2 1304.1,481.5 1306.0,483.8 1307.9,486.2 1309.7,488.5 1311.5,490.9 1313.3,493.3 1315.1,495.7 1316.9,498.2 1318.6,500.6 1320.4,503.1 1322.1,505.5 1323.9,508.0 1325.6,510.4 1327.3,512.9 1329.1,515.3 1330.8,517.8 1332.6,520.2 1334.4,522.6 1336.2,525.0 1338.1,527.4 1339.9,529.7 1341.8,532.1 1343.6,534.4 1345.5,536.8 1347.4,539.1 1349.3,541.5 1351.2,543.8 1353.1,546.1 1355.0,548.5 1356.9,550.8 1358.8,553.1 1360.7,555.5 1362.6,557.8 1364.5,560.1 1366.4,562.4 1368.4,564.7 1370.3,567.1 1372.2,569.4 1374.2,571.7 1376.1,574.0 1378.1,576.3 1380.0,578.5 1382.0,580.8 1384.0,583.1 1385.9,585.4 1387.9,587.6 1389.9,589.9 1391.9,592.1 1394.0,594.4 1396.0,596.6 1398.0,598.8 1400.0,601.0 1402.1,603.2 1404.1,605.4 1406.2,607.6 1408.3,609.8 1410.4,611.9 1412.5,614.1 1414.6,616.2 1416.7,618.4 1418.8,620.5 1421.0,622.6 1423.1,624.7 1425.3,626.8 1427.5,628.9 1429.7,630.9 1431.9,633.0 1434.1,635.0 1436.3,637.0 1438.6,639.0 1440.8,641.0 1443.1,643.0 1445.4,644.9 1447.7,646.9 1450.0,648.8 1452.3,650.7 1454.6,652.6 1457.0,654.5 1459.4,656.4 1461.7,658.2 1464.1,660.1 1466.5,661.9 1468.9,663.7 1471.4,665.5 1473.8,667.2 1476.3,669.0 1478.7,670.7 1481.2,672.4 1483.7,674.1 1486.2,675.8 1488.7,677.4 1491.2,679.1 1493.7,680.7 1496.3,682.3 1498.8,683.9 1501.4,685.5 1503.9,687.1 1506.5,688.6 1509.1,690.1 1511.7,691.7 1514.3,693.2 1516.9,694.7 1519.5,696.1 1522.2,697.6 1524.8,699.1 1527.4,700.5 1530.1,702.0 1532.7,703.4 1535.4,704.8 1538.0,706.2 1540.7,707.7 1543.4,709.1 1546.0,710.5 1548.7,711.8 1551.4,713.2 1554.0,714.6 1556.7,716.0 1559.4,717.3 1562.1,718.7 1564.8,720.1 1567.5,721.4 1570.1,722.8 1572.8,724.1 1575.5,725.5 1578.2,726.8 1580.9,728.2 1583.6,729.5 1586.3,730.9 1589.0,732.2 1591.7,733.5 1594.3,734.9 1597.0,736.2 1599.7,737.5 1602.4,738.8 1605.1,740.1 1607.8,741.4 1610.5,742.8 1613.3,744.1 1616.0,745.4 1618.7,746.7 1621.4,748.0 1624.1,749.3 1626.8,750.5 1629.5,751.8 1632.2,753.1 1635.0,754.4 1637.7,755.7 1640.4,757.0 1643.1,758.2 1645.8,759.5 1648.6,760.8 1651.3,762.0 1654.0,763.3 1656.8,764.5 1659.5,765.8 1662.2,767.1 1665.0,768.3 1667.7,769.5 1670.5,770.8 1673.2,772.0 1676.0,773.2 1678.7,774.4 1681.5,775.6 1684.2,776.8 1687.0,778.0 1689.8,779.2 1692.6,780.4 1695.3,781.5 1698.1,782.7 1700.9,783.8 1703.7,785.0 1706.5,786.1 1709.3,787.2 1712.1,788.3 1714.9,789.4 1717.7,790.5 1720.5,791.5 1723.3,792.6 1726.1,793.6 1728.9,794.6 1731.8,795.6 1734.6,796.6 1737.4,797.6 1740.3,798.6 1743.1,799.5 1746.0,800.5 1748.8,801.4 1751.7,802.3 1754.6,803.2 1757.4,804.1 1760.3,805.0 1763.2,805.8 1766.1,806.7 1769.0,807.6 1771.8,808.4 1774.7,809.2 1777.6,810.0 1780.5,810.9 1783.4,811.7 1786.3,812.5 1789.2,813.2 1792.1,814.0 1795.0,814.8 1797.9,815.5 1800.9,816.3 1803.8,817.0 1806.7,817.8 1809.6,818.5 1812.5,819.2 1815.5,819.9 1818.4,820.7 1821.3,821.4 1824.2,822.1 1827.2,822.7 1830.1,823.4 1833.0,824.1 1836.0,824.8 1838.9,825.5 1841.8,826.1 1844.8,826.8 1847.7,827.5 1850.7,828.1 1853.6,828.8 1856.5,829.4 1859.5,830.1 1862.4,830.7 1865.4,831.4 1868.3,832.0 1871.2,832.7 1874.2,833.3 1877.1,833.9 1880.1,834.6 1883.0,835.2 1885.9,835.8 1888.9,836.5 1891.8,837.1 1894.8,837.7 1897.7,838.4 1900.6,839.0 1903.6,839.7 1906.5,840.3" fill="none" stroke="#008080" stroke-width="10.8" stroke-linejoin="round" stroke-linecap="round" shape-rendering="crispEdges"/>
<g stroke="#000" stroke-width="10" fill="none" stroke-linecap="butt">
<path d="M233,15 V1270 M232,15 H1920 M1920,15 V1283 M228,1270 H1925"/>
<path d="M208,1270.0 H233"/>
<path d="M208,978.2 H233"/>
<path d="M208,686.5 H233"/>
<path d="M208,394.7 H233"/>
<path d="M208,102.9 H233"/>
<path d="M220,1124.1 H233"/>
<path d="M220,832.3 H233"/>
<path d="M220,540.6 H233"/>
<path d="M220,248.8 H233"/>
<path d="M233.0,1270 V1295"/>
<path d="M492.5,1270 V1295"/>
<path d="M752.0,1270 V1295"/>
<path d="M1011.5,1270 V1295"/>
<path d="M1271.0,1270 V1295"/>
<path d="M1530.5,1270 V1295"/>
<path d="M1790.0,1270 V1295"/>
<path d="M362.8,1270 V1283"/>
<path d="M622.2,1270 V1283"/>
<path d="M881.8,1270 V1283"/>
<path d="M1141.2,1270 V1283"/>
<path d="M1400.8,1270 V1283"/>
<path d="M1660.2,1270 V1283"/>
<path d="M1919.8,1270 V1283"/>
</g>
<rect x="1639" y="86" width="133" height="10" fill="#000000"/>
<rect x="1639" y="179" width="133" height="10" fill="#ff0000"/>
<rect x="1639" y="271.8" width="133" height="10" fill="#0000ff"/>
<rect x="1639" y="364.6" width="133" height="10" fill="#008080"/>
<text x="0" y="0" font-size="76" transform="translate(1792,110.8) scale(0.955,1)">P1</text>
<text x="0" y="0" font-size="76" transform="translate(1792,204) scale(0.955,1)">P2</text>
<text x="0" y="0" font-size="76" transform="translate(1792,297) scale(0.955,1)">P3</text>
<text x="0" y="0" font-size="76" transform="translate(1792,390) scale(0.955,1)">P4</text>
<text x="0" y="0" font-size="65" text-anchor="end" transform="translate(192,1286.5) scale(0.95,1)">60</text>
<text x="0" y="0" font-size="65" text-anchor="end" transform="translate(192,994.7) scale(0.95,1)">70</text>
<text x="0" y="0" font-size="65" text-anchor="end" transform="translate(192,703.0) scale(0.95,1)">80</text>
<text x="0" y="0" font-size="65" text-anchor="end" transform="translate(192,411.2) scale(0.95,1)">90</text>
<text x="0" y="0" font-size="65" text-anchor="end" transform="translate(192,119.4) scale(0.95,1)">100</text>
<text x="0" y="0" font-size="65" text-anchor="middle" transform="translate(232.2,1359) scale(0.95,1)">0</text>
<text x="0" y="0" font-size="65" text-anchor="middle" transform="translate(491.7,1359) scale(0.95,1)">100</text>
<text x="0" y="0" font-size="65" text-anchor="middle" transform="translate(751.2,1359) scale(0.95,1)">200</text>
<text x="0" y="0" font-size="65" text-anchor="middle" transform="translate(1010.7,1359) scale(0.95,1)">300</text>
<text x="0" y="0" font-size="65" text-anchor="middle" transform="translate(1270.2,1359) scale(0.95,1)">400</text>
<text x="0" y="0" font-size="65" text-anchor="middle" transform="translate(1529.7,1359) scale(0.95,1)">500</text>
<text x="0" y="0" font-size="65" text-anchor="middle" transform="translate(1789.2,1359) scale(0.95,1)">600</text>
<text x="0" y="0" font-size="76" transform="translate(63,985) rotate(-90) scale(0.994,1)">Weght residue / %</text>
<text x="0" y="0" font-size="79" transform="translate(755,1474) scale(1.0,1)">Temperature /<tspan x="538" y="-45.5" font-size="45">o</tspan><tspan x="566" y="0">C</tspan></text>
</svg></body></html>
